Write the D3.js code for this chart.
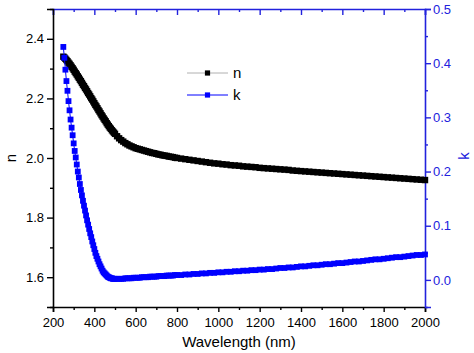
<!DOCTYPE html>
<html>
<head>
<meta charset="utf-8">
<script src="https://cdn.jsdelivr.net/npm/d3@7"></script>
<style>
  body { margin: 0; background: #fff; }
  svg { display: block; font-family: "Liberation Sans", Arial, sans-serif; }
</style>
</head>
<body>
<div id="chart"></div>
<script>
// wavelength grid (nm) as sampled in the figure
const wavelength = [
  250,255,260,265,270,275,280,285,290,295,
  300,305,310,315,320,325,330,335,340,345,
  350,355,360,365,370,375,380,385,390,395,
  400,405,410,415,420,425,430,435,440,445,
  450,455,460,465,470,475,480,485,490,495,
  500,
  510,520,530,540,550,560,570,580,590,600,
  610,620,630,640,650,660,670,680,690,700,
  710,720,730,740,750,760,770,780,790,800,
  820,840,860,880,900,920,940,960,980,1000,
  1020,1040,1060,1080,1100,1120,1140,1160,1180,1200,
  1220,1240,1260,1280,1300,1320,1340,1360,1380,1400,
  1420,1440,1460,1480,1500,1520,1540,1560,1580,1600,
  1620,1640,1660,1680,1700,1720,1740,1760,1780,1800,
  1820,1840,1860,1880,1900,1920,1940,1960,1980,2000
];

// refractive index n (left axis)
const nValues = [
  2.340,2.337,2.333,2.329,2.325,2.320,2.316,2.311,2.306,2.301,
  2.296,2.290,2.285,2.280,2.274,2.269,2.263,2.258,2.252,2.246,
  2.241,2.235,2.230,2.224,2.218,2.213,2.207,2.201,2.196,2.190,
  2.184,2.178,2.173,2.167,2.161,2.156,2.150,2.144,2.139,2.133,
  2.128,2.123,2.117,2.112,2.107,2.102,2.098,2.093,2.089,2.085,
  2.081,
  2.073,2.066,2.060,2.055,2.050,2.046,2.042,2.039,2.036,2.033,
  2.031,2.029,2.027,2.025,2.023,2.021,2.019,2.017,2.016,2.014,
  2.012,2.011,2.009,2.008,2.007,2.005,2.004,2.003,2.001,2.000,
  1.998,1.996,1.994,1.992,1.990,1.988,1.986,1.984,1.982,1.981,
  1.979,1.978,1.976,1.975,1.974,1.972,1.971,1.970,1.969,1.967,
  1.966,1.965,1.964,1.963,1.962,1.961,1.960,1.958,1.957,1.956,
  1.955,1.954,1.953,1.952,1.951,1.950,1.949,1.948,1.947,1.946,
  1.945,1.944,1.943,1.942,1.941,1.940,1.939,1.938,1.937,1.936,
  1.935,1.934,1.933,1.932,1.931,1.930,1.929,1.928,1.927,1.926
];

// extinction coefficient k (right axis)
const kValues = [
  0.430,0.410,0.388,0.367,0.349,0.330,0.313,0.296,0.281,0.267,
  0.252,0.238,0.226,0.213,0.200,0.189,0.177,0.166,0.156,0.146,
  0.137,0.128,0.119,0.110,0.102,0.094,0.086,0.079,0.071,0.064,
  0.057,0.050,0.044,0.039,0.034,0.029,0.025,0.021,0.017,0.014,
  0.012,0.010,0.008,0.006,0.005,0.004,0.003,0.003,0.002,0.002,
  0.002,
  0.002,0.002,0.002,0.002,0.003,0.003,0.003,0.003,0.004,0.004,
  0.004,0.004,0.005,0.005,0.005,0.005,0.006,0.006,0.006,0.006,
  0.007,0.007,0.007,0.007,0.008,0.008,0.008,0.008,0.009,0.009,
  0.009,0.010,0.010,0.011,0.011,0.012,0.012,0.013,0.013,0.014,
  0.014,0.015,0.015,0.016,0.016,0.017,0.017,0.018,0.018,0.019,
  0.019,0.020,0.020,0.021,0.022,0.022,0.023,0.023,0.024,0.025,
  0.025,0.026,0.027,0.027,0.028,0.029,0.029,0.030,0.031,0.031,
  0.032,0.033,0.034,0.034,0.035,0.036,0.037,0.038,0.038,0.039,
  0.040,0.041,0.042,0.042,0.043,0.044,0.045,0.046,0.046,0.047
];

// tick labels
const xMajor = [200,400,600,800,1000,1200,1400,1600,1800,2000];
const xMinor = [300,500,700,900,1100,1300,1500,1700,1900];
const nMajor = [1.6,1.8,2.0,2.2,2.4];
const nMinor = [1.5,1.7,1.9,2.1,2.3,2.5];
const kMajor = [0.0,0.1,0.2,0.3,0.4,0.5];
const kMinor = [-0.05,0.05,0.15,0.25,0.35,0.45];

const W = 474, H = 353;
const plot = { left: 53, right: 425, top: 9, bottom: 307 };
const blue = '#0000ff';
const axisBlue = '#2222dd';

const svg = d3.select('#chart').append('svg')
    .attr('width', W)
    .attr('height', H);

svg.append('rect').attr('width', W).attr('height', H).attr('fill', '#fff');

const x = d3.scaleLinear().domain([200, 2000]).range([plot.left, plot.right]);
const yN = d3.scaleLinear().domain([1.5, 2.5]).range([plot.bottom, plot.top]);
const yK = d3.scaleLinear().domain([-0.05, 0.5]).range([plot.bottom, plot.top]);

const nData = wavelength.map((w, i) => ({ w: w, v: nValues[i] }));
const kData = wavelength.map((w, i) => ({ w: w, v: kValues[i] }));

// style an axis group
function styleAxis(g, color, showDomain) {
    g.selectAll('.domain')
        .attr('stroke', color)
        .attr('stroke-width', 1.6)
        .attr('display', showDomain ? null : 'none');
    g.selectAll('.tick line').attr('stroke', color).attr('stroke-width', 1.4);
    g.selectAll('.tick text')
        .attr('fill', color)
        .style('font-size', '13px');
}

// bottom axis
const gBottom = svg.append('g')
    .attr('transform', `translate(0,${plot.bottom})`)
    .call(d3.axisBottom(x).tickValues(xMajor).tickSize(5).tickPadding(6).tickFormat(d3.format('d')));
styleAxis(gBottom, '#000', true);
const gBottomMinor = svg.append('g')
    .attr('transform', `translate(0,${plot.bottom})`)
    .call(d3.axisBottom(x).tickValues(xMinor).tickSize(3).tickFormat(''));
styleAxis(gBottomMinor, '#000', false);

// top axis (ticks inward)
const gTop = svg.append('g')
    .attr('transform', `translate(0,${plot.top})`)
    .call(d3.axisBottom(x).tickValues(xMajor).tickSize(6).tickFormat(''));
styleAxis(gTop, axisBlue, true);
const gTopMinor = svg.append('g')
    .attr('transform', `translate(0,${plot.top})`)
    .call(d3.axisBottom(x).tickValues(xMinor).tickSize(3).tickFormat(''));
styleAxis(gTopMinor, axisBlue, false);

// left axis (n)
const gLeft = svg.append('g')
    .attr('transform', `translate(${plot.left},0)`)
    .call(d3.axisLeft(yN).tickValues(nMajor).tickSize(6).tickPadding(3).tickFormat(d3.format('.1f')));
styleAxis(gLeft, '#000', true);
const gLeftMinor = svg.append('g')
    .attr('transform', `translate(${plot.left},0)`)
    .call(d3.axisLeft(yN).tickValues(nMinor).tickSize(3).tickFormat(''));
styleAxis(gLeftMinor, '#000', false);

// right axis (k)
const gRight = svg.append('g')
    .attr('transform', `translate(${plot.right},0)`)
    .call(d3.axisRight(yK).tickValues(kMajor).tickSize(6).tickPadding(2).tickFormat(d3.format('.1f')));
styleAxis(gRight, axisBlue, true);
const gRightMinor = svg.append('g')
    .attr('transform', `translate(${plot.right},0)`)
    .call(d3.axisRight(yK).tickValues(kMinor).tickSize(3).tickFormat(''));
styleAxis(gRightMinor, axisBlue, false);

// axis titles
svg.append('text')
    .attr('x', (plot.left + plot.right) / 2)
    .attr('y', 347)
    .attr('text-anchor', 'middle')
    .style('font-size', '15px')
    .text('Wavelength (nm)');

svg.append('text')
    .attr('transform', 'translate(16,158) rotate(-90)')
    .attr('text-anchor', 'middle')
    .style('font-size', '15px')
    .text('n');

svg.append('text')
    .attr('transform', 'translate(469,156) rotate(-90)')
    .attr('text-anchor', 'middle')
    .attr('fill', axisBlue)
    .style('font-size', '15px')
    .text('k');

// series
function drawSeries(data, yScale, lineColor, markerColor, size) {
    const line = d3.line()
        .x(d => x(d.w))
        .y(d => yScale(d.v));
    svg.append('path')
        .datum(data)
        .attr('d', line)
        .attr('fill', 'none')
        .attr('stroke', lineColor)
        .attr('stroke-width', 1);
    svg.append('g')
        .selectAll('rect')
        .data(data)
        .join('rect')
        .attr('x', d => x(d.w) - size / 2)
        .attr('y', d => yScale(d.v) - size / 2)
        .attr('width', size)
        .attr('height', size)
        .attr('fill', markerColor);
}

drawSeries(nData, yN, '#aaaaaa', '#000', 6.4);
drawSeries(kData, yK, blue, blue, 5.8);

// legend
const legendItems = [
    { name: 'n', line: '#b0b0b0', marker: '#000', y: 73 },
    { name: 'k', line: blue, marker: blue, y: 95 }
];
const legend = svg.append('g');
legendItems.forEach(item => {
    legend.append('line')
        .attr('x1', 187).attr('x2', 228)
        .attr('y1', item.y).attr('y2', item.y)
        .attr('stroke', item.line)
        .attr('stroke-width', 1);
    legend.append('rect')
        .attr('x', 207.5 - 2.6).attr('y', item.y - 2.6)
        .attr('width', 5.2).attr('height', 5.2)
        .attr('fill', item.marker);
    legend.append('text')
        .attr('x', 233)
        .attr('y', item.y + 5)
        .style('font-size', '15px')
        .text(item.name);
});
</script>
</body>
</html>
